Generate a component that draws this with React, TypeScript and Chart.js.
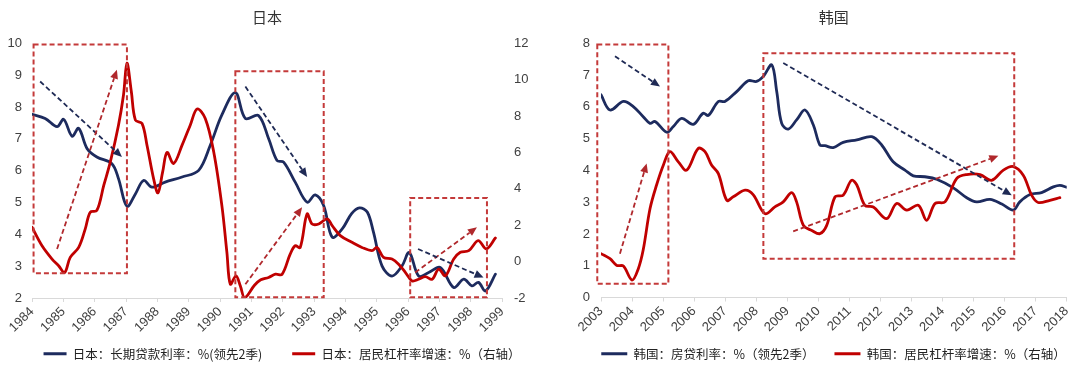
import React, { useEffect, useRef } from 'react';
import { Chart, registerables } from 'chart.js';

Chart.register(...registerables);

// ---------------- Data ----------------
// Japan: long-term lending rate (%, lead 2 quarters) - left axis
const jpRateX = [1984.0, 1984.42, 1984.8, 1985.01, 1985.28, 1985.49, 1985.76, 1986.07, 1986.55, 1986.76, 1987.03, 1987.3, 1987.56, 1987.83, 1988.25, 1988.79, 1989.32, 1989.69, 1990.06, 1990.49, 1990.81, 1991.23, 1991.55, 1991.82, 1992.03, 1992.4, 1992.78, 1993.04, 1993.31, 1993.58, 1993.9, 1994.2, 1994.45, 1994.7, 1994.9, 1995.17, 1995.49, 1995.81, 1996.04, 1996.34, 1996.66, 1997.03, 1997.46, 1997.78, 1998.04, 1998.25, 1998.47, 1998.79];
const jpRate = [7.77, 7.64, 7.38, 7.61, 7.08, 7.33, 6.69, 6.43, 6.22, 5.75, 4.88, 5.27, 5.69, 5.48, 5.64, 5.8, 6.01, 6.8, 7.75, 8.45, 7.64, 7.73, 7.01, 6.32, 6.27, 5.64, 5.01, 5.24, 4.9, 3.91, 4.17, 4.65, 4.83, 4.7, 4.06, 3.01, 2.69, 3.01, 3.43, 2.69, 2.8, 2.96, 2.33, 2.59, 2.38, 2.49, 2.22, 2.75];

// Japan: household leverage growth (%, right axis)
const jpLevX = [1984.0, 1984.32, 1984.64, 1984.85, 1985.04, 1985.22, 1985.49, 1985.7, 1985.86, 1986.07, 1986.29, 1986.5, 1986.76, 1986.92, 1987.03, 1987.17, 1987.3, 1987.51, 1987.67, 1987.88, 1988.02, 1988.17, 1988.31, 1988.52, 1988.79, 1989.05, 1989.27, 1989.53, 1989.8, 1990.06, 1990.22, 1990.33, 1990.51, 1990.65, 1990.79, 1991.1, 1991.3, 1991.55, 1991.77, 1991.98, 1992.24, 1992.4, 1992.56, 1992.78, 1992.94, 1993.15, 1993.42, 1993.58, 1993.84, 1994.21, 1994.53, 1994.85, 1995.01, 1995.22, 1995.49, 1995.7, 1995.92, 1996.13, 1996.34, 1996.55, 1996.77, 1996.98, 1997.19, 1997.46, 1997.67, 1997.94, 1998.24, 1998.5, 1998.79];
const jpLev = [1.89, 0.87, 0.14, -0.23, -0.6, 0.23, 0.78, 1.8, 2.72, 2.81, 4.19, 5.48, 7.5, 9.16, 10.91, 9.35, 7.78, 7.6, 6.4, 4.56, 3.78, 4.93, 6.0, 5.39, 6.4, 7.5, 8.39, 7.87, 6.03, 3.08, 0.51, -1.24, -0.78, -1.34, -1.98, -1.3, -1.0, -0.87, -0.69, -0.7, 0.41, 0.87, 0.78, 2.62, 2.07, 2.07, 2.35, 1.98, 1.43, 1.06, 0.78, 0.6, 0.78, 0.23, 0.14, -0.14, -0.6, -1.06, -0.97, -0.82, -0.97, -0.41, -0.78, 0.14, 0.51, 0.6, 1.15, 0.7, 1.3];

// Korea: mortgage rate (%, lead 2 quarters)
const krRateX = [2003.0, 2003.29, 2003.72, 2004.04, 2004.36, 2004.58, 2004.74, 2005.12, 2005.33, 2005.6, 2005.97, 2006.29, 2006.46, 2006.78, 2006.99, 2007.37, 2007.74, 2008.01, 2008.23, 2008.5, 2008.66, 2008.82, 2009.03, 2009.3, 2009.57, 2009.84, 2010.05, 2010.21, 2010.48, 2010.8, 2011.24, 2011.72, 2012.04, 2012.41, 2012.79, 2013.06, 2013.43, 2013.81, 2014.35, 2014.78, 2015.1, 2015.53, 2015.91, 2016.28, 2016.49, 2016.82, 2017.19, 2017.57, 2017.78, 2018.0];
const krRate = [6.38, 5.9, 6.17, 6.01, 5.69, 5.48, 5.54, 5.2, 5.38, 5.64, 5.45, 5.8, 5.73, 6.17, 6.17, 6.48, 6.82, 6.8, 6.96, 7.32, 6.48, 5.48, 5.3, 5.59, 5.9, 5.43, 4.8, 4.78, 4.72, 4.88, 4.96, 5.06, 4.8, 4.27, 4.01, 3.83, 3.8, 3.72, 3.45, 3.14, 3.01, 3.09, 2.94, 2.75, 3.01, 3.24, 3.3, 3.48, 3.53, 3.47];

// Korea: household leverage growth (%)
const krLevX = [2003.0, 2003.29, 2003.51, 2003.72, 2004.0, 2004.2, 2004.36, 2004.58, 2004.79, 2005.01, 2005.22, 2005.49, 2005.76, 2006.13, 2006.35, 2006.56, 2006.78, 2007.05, 2007.26, 2007.64, 2007.9, 2008.28, 2008.6, 2008.87, 2009.14, 2009.3, 2009.52, 2009.79, 2010.05, 2010.27, 2010.54, 2010.8, 2011.07, 2011.24, 2011.5, 2011.77, 2012.2, 2012.52, 2012.85, 2013.22, 2013.49, 2013.76, 2014.08, 2014.46, 2014.78, 2015.21, 2015.58, 2015.96, 2016.28, 2016.6, 2016.87, 2017.08, 2017.46, 2017.78];
const krLev = [1.38, 1.22, 1.01, 0.99, 0.55, 0.9, 1.5, 2.8, 3.54, 4.17, 4.59, 4.27, 4.01, 4.69, 4.59, 4.17, 3.9, 3.06, 3.17, 3.38, 3.24, 2.64, 2.85, 3.01, 3.3, 3.01, 2.27, 2.11, 2.01, 2.27, 3.17, 3.22, 3.69, 3.54, 2.9, 2.85, 2.48, 2.96, 2.75, 2.9, 2.43, 2.96, 3.01, 3.75, 3.87, 3.87, 3.69, 4.01, 4.12, 3.85, 3.22, 2.99, 3.06, 3.14];

// Tick labels (years)
const jpYears = [1984, 1985, 1986, 1987, 1988, 1989, 1990, 1991, 1992, 1993, 1994, 1995, 1996, 1997, 1998, 1999];
const krYears = [2003, 2004, 2005, 2006, 2007, 2008, 2009, 2010, 2011, 2012, 2013, 2014, 2015, 2016, 2017, 2018];

// Series names
const jpRateName = '日本：长期贷款利率：%(领先2季)';
const jpLevName = '日本：居民杠杆率增速：%（右轴）';
const krRateName = '韩国：房贷利率：%（领先2季）';
const krLevName = '韩国：居民杠杆率增速：%（右轴）';

// Annotations (data units, left axis)
const jpBoxes = [
  { x0: 1984.05, x1: 1987.03, y0: 2.78, y1: 9.96 },
  { x0: 1990.49, x1: 1993.31, y0: 2.02, y1: 9.12 },
  { x0: 1996.07, x1: 1998.52, y0: 2.02, y1: 5.14 },
];
const jpArrows = [
  { x0: 1984.26, y0: 8.8, x1: 1986.87, y1: 6.43, kind: 'rate' },
  { x0: 1984.8, y0: 3.54, x1: 1986.71, y1: 9.17, kind: 'lev' },
  { x0: 1990.81, y0: 8.64, x1: 1992.78, y1: 5.8, kind: 'rate' },
  { x0: 1990.81, y0: 2.43, x1: 1992.62, y1: 4.85, kind: 'lev' },
  { x0: 1996.23, y0: 2.8, x1: 1998.2, y1: 4.22, kind: 'lev' },
  { x0: 1996.32, y0: 3.54, x1: 1998.41, y1: 2.64, kind: 'rate' },
];
const krBoxes = [
  { x0: 2002.88, x1: 2005.17, y0: 0.43, y1: 7.96 },
  { x0: 2008.23, x1: 2016.31, y0: 1.22, y1: 7.69 },
];
const krArrows = [
  { x0: 2003.45, y0: 7.59, x1: 2004.9, y1: 6.64, kind: 'rate' },
  { x0: 2003.61, y0: 1.38, x1: 2004.47, y1: 4.22, kind: 'lev' },
  { x0: 2008.87, y0: 7.38, x1: 2016.23, y1: 3.22, kind: 'rate' },
  { x0: 2009.19, y0: 2.08, x1: 2015.8, y1: 4.46, kind: 'lev' },
];

// ---------------- Styles ----------------
const NAVY = '#1d2b5e';
const RED = '#c00000';
const BOX_COLOR = '#c43a3a';
const ARROW_NAVY = '#1f2a55';
const ARROW_RED = '#b0282c';
const CJK = "'Noto Sans CJK SC', 'Noto Sans', sans-serif";
const NUM = "'Liberation Sans', Arial, sans-serif";
const TICK_COLOR = '#404040';

function pts(xs: number[], ys: number[]) {
  return xs.map((x, i) => ({ x, y: ys[i] }));
}

function annotPlugin(boxes: any[], arrows: any[]) {
  return {
    id: 'annot',
    afterDatasetsDraw(chart: any) {
      const { ctx } = chart;
      const xs = chart.scales.x;
      const ys = chart.scales.y;
      ctx.save();
      ctx.lineWidth = 2;
      ctx.setLineDash([5, 3]);
      ctx.strokeStyle = BOX_COLOR;
      for (const b of boxes) {
        const l = xs.getPixelForValue(b.x0);
        const r = xs.getPixelForValue(b.x1);
        const t = ys.getPixelForValue(b.y1);
        const bt = ys.getPixelForValue(b.y0);
        ctx.strokeRect(l, t, r - l, bt - t);
      }
      for (const a of arrows) {
        const c = a.kind === 'rate' ? ARROW_NAVY : ARROW_RED;
        const px0 = xs.getPixelForValue(a.x0);
        const py0 = ys.getPixelForValue(a.y0);
        const px1 = xs.getPixelForValue(a.x1);
        const py1 = ys.getPixelForValue(a.y1);
        const ang = Math.atan2(py1 - py0, px1 - px0);
        const head = 9;
        const hw = 4;
        const bx = px1 - head * Math.cos(ang);
        const by = py1 - head * Math.sin(ang);
        ctx.strokeStyle = c;
        ctx.lineWidth = 1.8;
        ctx.setLineDash([5, 3]);
        ctx.beginPath();
        ctx.moveTo(px0, py0);
        ctx.lineTo(bx, by);
        ctx.stroke();
        ctx.setLineDash([]);
        ctx.fillStyle = c;
        ctx.beginPath();
        ctx.moveTo(px1, py1);
        ctx.lineTo(bx + hw * Math.sin(ang), by - hw * Math.cos(ang));
        ctx.lineTo(bx - hw * Math.sin(ang), by + hw * Math.cos(ang));
        ctx.closePath();
        ctx.fill();
      }
      ctx.restore();
    },
  };
}

function lineDs(label: string, data: any[], color: string, axis: string, order: number) {
  return {
    label,
    data,
    borderColor: color,
    backgroundColor: color,
    borderWidth: 2.8,
    pointRadius: 0,
    tension: 0.35,
    yAxisID: axis,
    order,
    borderCapStyle: 'round',
    borderJoinStyle: 'round',
  };
}

// tick labels may extend past their axis box (as in the reference); keep them unclipped
function fixSize(prop: 'width' | 'height', size: number) {
  return (s: any) => {
    s[prop] = size;
    s._computeLabelArea = () => undefined;
  };
}

function legendOpts(gap: number, boxW: number) {
  return {
    position: 'bottom',
    labels: {
      boxWidth: boxW,
      boxHeight: 3,
      padding: gap,
      color: '#222',
      font: { family: CJK, size: 12.5 },
      sort: (a: any, b: any) => a.datasetIndex - b.datasetIndex,
      generateLabels: (chart: any) =>
        Chart.defaults.plugins.legend.labels.generateLabels(chart).map((l: any) => ({ ...l, lineWidth: 0 })),
    },
  };
}

function xScale(years: number[], height: number) {
  return {
    type: 'linear',
    min: years[0],
    max: years[years.length - 1],
    afterBuildTicks: (s: any) => {
      s.ticks = years.map((v) => ({ value: v }));
    },
    afterFit: fixSize('height', height),
    ticks: {
      callback: (v: any) => String(v),
      minRotation: 45,
      maxRotation: 45,
      autoSkip: false,
      padding: 2,
      color: TICK_COLOR,
      font: { family: NUM, size: 13 },
    },
    grid: { display: true, drawOnChartArea: false, drawTicks: true, tickLength: 4, color: '#d9d9d9' },
    border: { display: true, color: '#d9d9d9', width: 1 },
  };
}

function yScale(pos: string, min: number, max: number, step: number, pad: number, width: number, showTicks = true) {
  return {
    position: pos,
    min,
    max,
    afterFit: fixSize('width', width),
    ticks: { display: showTicks, stepSize: step, padding: pad, color: TICK_COLOR, font: { family: NUM, size: 13 } },
    grid: { display: false, drawTicks: false },
    border: { display: false },
  };
}

function titleOpts(text: string) {
  return {
    display: true,
    text,
    fullSize: false,
    color: '#333',
    font: { family: CJK, size: 15, weight: 'normal' },
    padding: { top: 8, bottom: 17.3 },
  };
}

function makeJapan(): any {
  return {
    type: 'line',
    data: {
      datasets: [
        lineDs(jpRateName, pts(jpRateX, jpRate), NAVY, 'y', 1),
        lineDs(jpLevName, pts(jpLevX, jpLev), RED, 'y1', 0),
      ],
    },
    options: {
      responsive: false,
      animation: false,
      layout: { padding: { left: 0, right: -24, top: 0, bottom: 0 } },
      plugins: {
        title: titleOpts('日本'),
        legend: legendOpts(30, 23),
        tooltip: { enabled: false },
      },
      scales: {
        x: xScale(jpYears, 19.5),
        y: yScale('left', 2, 10, 1, 10, 32),
        y1: yScale('right', -2, 12, 2, 12, 62),
      },
    },
    plugins: [annotPlugin(jpBoxes, jpArrows)],
  };
}

function makeKorea(): any {
  return {
    type: 'line',
    data: {
      datasets: [
        lineDs(krRateName, pts(krRateX, krRate), NAVY, 'y', 1),
        lineDs(krLevName, pts(krLevX, krLev), RED, 'y1', 0),
      ],
    },
    options: {
      responsive: false,
      animation: false,
      layout: { padding: { left: 13, right: -34, top: 0, bottom: 0 } },
      plugins: {
        title: titleOpts('韩国'),
        legend: legendOpts(20, 26),
        tooltip: { enabled: false },
      },
      scales: {
        x: xScale(krYears, 30),
        y: yScale('left', 0, 8, 1, 11, 48),
        y1: yScale('right', 0, 8, 1, 0, 47.3, false),
      },
    },
    plugins: [annotPlugin(krBoxes, krArrows)],
  };
}

function Panel({ make }: { make: () => any }) {
  const ref = useRef<HTMLCanvasElement>(null);
  useEffect(() => {
    if (!ref.current) return;
    const chart = new Chart(ref.current, make());
    return () => chart.destroy();
  }, [make]);
  return <canvas ref={ref} width={540} height={370} style={{ display: 'block', width: 540, height: 370 }} />;
}

export default function App() {
  return (
    <div style={{ position: 'fixed', left: 0, top: 0, width: 1080, height: 370, background: '#fff', display: 'flex' }}>
      <Panel make={makeJapan} />
      <Panel make={makeKorea} />
    </div>
  );
}
